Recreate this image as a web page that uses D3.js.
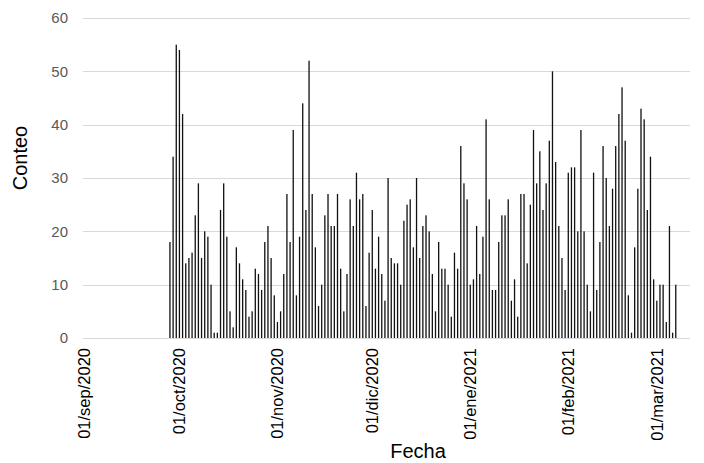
<!DOCTYPE html>
<html>
<head>
<meta charset="utf-8">
<script src="https://cdn.jsdelivr.net/npm/d3@7"></script>
<style>
  body { margin: 0; background: #fff; }
  svg { display: block; font-family: "Liberation Sans", Arial, sans-serif; }
</style>
</head>
<body>
<svg id="chart" width="704" height="463"></svg>
<script>
// daily counts, first value is 28/sep/2020
var firstDay = "2020-09-28";
var counts = [
  18, 34, 55, 54, 42, 14, 15, 16, 23, 29, 15, 20, 19, 10, 1, 1, 24, 29, 19, 5,
  2, 17, 14, 11, 9, 4, 5, 13, 12, 9, 18, 21, 15, 8, 3, 5, 12, 27, 18, 39,
  8, 19, 44, 24, 52, 27, 17, 6, 10, 23, 27, 21, 21, 27, 13, 5, 12, 26, 21, 31,
  26, 27, 6, 16, 24, 13, 19, 12, 7, 30, 15, 14, 14, 10, 22, 25, 26, 17, 30, 15,
  21, 23, 20, 12, 5, 18, 13, 13, 10, 4, 16, 13, 36, 29, 26, 10, 11, 21, 12, 19,
  41, 26, 9, 9, 18, 23, 23, 26, 7, 11, 4, 27, 27, 14, 25, 39, 29, 35, 24, 29,
  37, 50, 33, 21, 15, 9, 31, 32, 32, 20, 39, 20, 10, 5, 31, 9, 18, 36, 30, 21,
  28, 36, 42, 47, 37, 8, 1, 17, 28, 43, 41, 24, 34, 11, 7, 10, 10, 3, 21, 1, 10
];
// axis runs from 01/sep/2020 to 11/mar/2021
var axisStart = "2020-09-01";
var axisEnd = "2021-03-12";
var tickDates = ["2020-09-01", "2020-10-01", "2020-11-01", "2020-12-01", "2021-01-01", "2021-02-01", "2021-03-01"];
var tickLabels = ["01/sep/2020", "01/oct/2020", "01/nov/2020", "01/dic/2020", "01/ene/2021", "01/feb/2021", "01/mar/2021"];
var yTicks = [0, 10, 20, 30, 40, 50, 60];

(function() {

    var parse = d3.timeParse("%Y-%m-%d");
    var fmt = d3.timeFormat("%Y-%m-%d");

    var svg = d3.select("#chart");
    var plotLeft = 83, plotRight = 690, plotTop = 18, plotBottom = 338;

    var days = d3.timeDay.range(parse(axisStart), parse(axisEnd)).map(fmt);
    var start = parse(firstDay);
    var data = counts.map(function(v, i) {
        return { day: fmt(d3.timeDay.offset(start, i)), value: v };
    });

    var x = d3.scaleBand()
        .domain(days)
        .range([plotLeft, plotRight])
        .padding(0);

    var y = d3.scaleLinear()
        .domain([0, 60])
        .range([plotBottom, plotTop]);

    // gridlines
    svg.append("g")
        .selectAll("line")
        .data(yTicks)
        .enter()
        .append("line")
        .attr("x1", plotLeft)
        .attr("x2", plotRight)
        .attr("y1", function(d) { return Math.round(y(d)) + 0.5; })
        .attr("y2", function(d) { return Math.round(y(d)) + 0.5; })
        .style("stroke", "#d9d9d9")
        .style("stroke-width", 1);

    // y labels
    svg.append("g")
        .selectAll("text")
        .data(yTicks)
        .enter()
        .append("text")
        .attr("x", 68)
        .attr("y", function(d) { return y(d); })
        .attr("dy", "0.35em")
        .attr("text-anchor", "end")
        .style("font-size", "15px")
        .style("fill", "#595959")
        .text(function(d) { return d; });

    // bars
    var bw = 1.3;
    svg.append("g")
        .selectAll("rect")
        .data(data)
        .enter()
        .append("rect")
        .attr("x", function(d) { return x(d.day) + x.bandwidth() / 2 - bw / 2; })
        .attr("y", function(d) { return y(d.value); })
        .attr("width", bw)
        .attr("height", function(d) { return y(0) - y(d.value); })
        .style("fill", "#111");

    // x axis labels
    var xAxis = d3.axisBottom(x)
        .tickValues(tickDates)
        .tickSize(0)
        .tickFormat(function(d) { return tickLabels[tickDates.indexOf(d)]; });

    var gx = svg.append("g")
        .attr("transform", "translate(0," + plotBottom + ")")
        .call(xAxis);

    gx.select(".domain").remove();
    gx.selectAll("text")
        .attr("transform", "rotate(-90)")
        .attr("x", -10)
        .attr("y", 0)
        .attr("dy", "0.35em")
        .attr("text-anchor", "end")
        .style("font-family", "\"Liberation Sans\", Arial, sans-serif")
        .style("font-size", "16.5px")
        .style("fill", "#000");

    // axis titles
    svg.append("text")
        .attr("x", 418)
        .attr("y", 458)
        .attr("text-anchor", "middle")
        .style("font-size", "20px")
        .style("fill", "#000")
        .text("Fecha");

    svg.append("text")
        .attr("transform", "translate(27,158) rotate(-90)")
        .attr("text-anchor", "middle")
        .style("font-size", "20px")
        .style("fill", "#000")
        .text("Conteo");

})();
</script>
</body>
</html>
